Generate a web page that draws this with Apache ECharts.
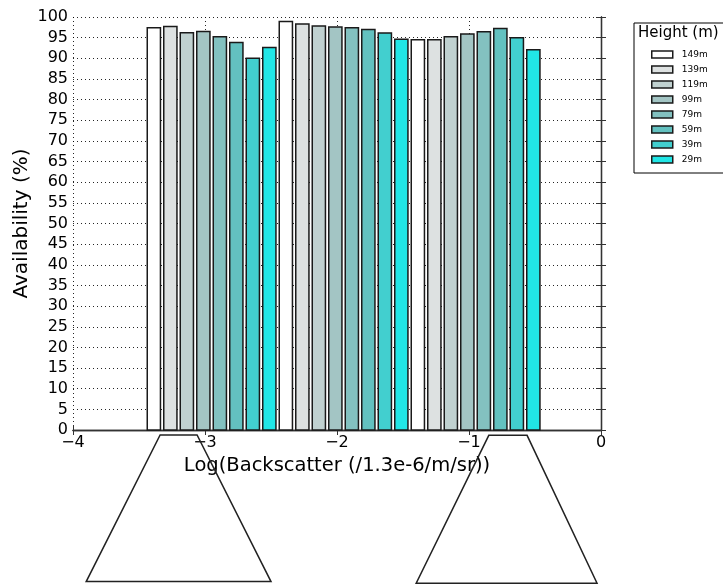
<!DOCTYPE html>
<html>
<head>
<meta charset="utf-8">
<script src="https://cdn.jsdelivr.net/npm/echarts@6/dist/echarts.min.js"></script>
<style>
  html, body { margin: 0; padding: 0; background: #fff; }
  #chart { width: 723px; height: 585px; }
</style>
</head>
<body>
<div id="chart"></div>
<script>
// Left edge of each backscatter bin (log scale)
const binLefts = [-3.5, -2.5, -1.5];

// Measurement heights (legend order)
const heights = ['149m', '139m', '119m', '99m', '79m', '59m', '39m', '29m'];

// Availability (%) per height, one value per backscatter bin
const avail149 = [97.4, 98.9, 94.5];
const avail139 = [97.7, 98.3, 94.5];
const avail119 = [96.2, 97.8, 95.2];
const avail99  = [96.5, 97.6, 95.9];
const avail79  = [95.2, 97.4, 96.4];
const avail59  = [93.8, 97.0, 97.2];
const avail39  = [90.0, 96.1, 95.0];
const avail29  = [92.6, 94.6, 92.1];
const availability = [avail149, avail139, avail119, avail99, avail79, avail59, avail39, avail29];

// Outline shapes below the axis (data coordinates)
const outlineLeft  = [[-3.34, -1.2], [-3.06, -1.2], [-2.50, -36.7], [-3.90, -36.7]];
const outlineRight = [[-0.85, -1.3], [-0.56, -1.3], [-0.03, -37.1], [-1.40, -37.1]];
const outlines = [outlineLeft, outlineRight];

// Axis tick values
const xTicks = [-4, -3, -2, -1, 0];
const yMax = 100, yStep = 5;

const colors = ['#ffffff', '#dde1e1', '#c0d1d0', '#a3c5c4', '#83c1c0', '#63c1c0', '#42cfcf', '#21e6e6'];
const EDGE = '#1a1a1a';
const FONT = 'DejaVu Sans';
const BAR_W = 0.1;      // bar width in data units
const SLOT = 0.125;     // spacing between heights inside a bin
const PAD = 0.0625;     // offset of first bar inside a bin

const minus = v => (v < 0 ? '\u2212' + (-v) : String(v));

const barSeries = heights.map((h, i) => ({
  type: 'custom',
  name: h,
  xAxisIndex: 0,
  yAxisIndex: 0,
  itemStyle: { color: colors[i], borderColor: EDGE, borderWidth: 1.5 },
  data: binLefts.map((b, k) => [b + PAD + i * SLOT, availability[i][k]]),
  renderItem: (params, api) => {
    const x0 = api.value(0), y = api.value(1);
    const p0 = api.coord([x0, y]);
    const p1 = api.coord([x0 + BAR_W, 0]);
    return {
      type: 'rect',
      shape: { x: p0[0], y: p0[1], width: p1[0] - p0[0], height: p1[1] - p0[1] },
      style: { fill: colors[i], stroke: EDGE, lineWidth: 1.5 }
    };
  }
}));

const outlineSeries = {
  type: 'custom',
  silent: true,
  clip: false,
  xAxisIndex: 0,
  yAxisIndex: 0,
  data: outlines.map((o, k) => [o[0][0], o[0][1], k]),
  renderItem: (params, api) => {
    const pts = outlines[api.value(2)].map(p => api.coord(p));
    return {
      type: 'polygon',
      shape: { points: pts },
      style: { fill: 'none', stroke: '#222', lineWidth: 1.5 }
    };
  },
  z: 5
};

const chart = echarts.init(document.getElementById('chart'), null, { renderer: 'canvas' });
const frameLine = { show: true, lineStyle: { color: '#333', width: 1.3 } };
const gridDots = { show: true, lineStyle: { color: '#000', width: 1, type: [1, 3], opacity: 0.85 } };

chart.setOption({
  animation: false,
  backgroundColor: '#fff',
  textStyle: { fontFamily: FONT },
  grid: { left: 73, right: 122, top: 17, bottom: 155, containLabel: false },
  title: {
    text: 'Height (m)',
    left: 638, top: 26, padding: 0,
    textStyle: { fontFamily: FONT, fontSize: 15, fontWeight: 'normal', color: '#000' }
  },
  legend: {
    orient: 'vertical',
    left: 634, top: 23,
    padding: [27, 45, 9, 17],
    itemWidth: 21, itemHeight: 7, itemGap: 6,
    icon: 'rect',
    borderColor: '#000', borderWidth: 1,
    data: heights,
    textStyle: { fontFamily: FONT, fontSize: 9, color: '#000', lineHeight: 8, padding: [0, 0, 0, 4] },
    itemStyle: { borderColor: EDGE, borderWidth: 1.5 },
    selectedMode: false
  },
  xAxis: [{
    type: 'value', min: xTicks[0], max: xTicks[xTicks.length - 1], interval: 1,
    position: 'bottom',
    name: 'Log(Backscatter (/1.3e-6/m/sr))',
    nameLocation: 'middle', nameGap: 25,
    nameTextStyle: { fontFamily: FONT, fontSize: 19.5, color: '#000' },
    axisLine: frameLine,
    axisTick: { show: true, inside: true, length: 5, lineStyle: { color: '#333' } },
    axisLabel: { fontFamily: FONT, fontSize: 16, color: '#000', margin: 5, formatter: minus,
                 showMinLabel: true, showMaxLabel: true },
    splitLine: gridDots
  }, {
    type: 'value', min: xTicks[0], max: xTicks[xTicks.length - 1], interval: 1,
    position: 'top',
    axisLine: frameLine,
    axisTick: { show: true, inside: true, length: 5, lineStyle: { color: '#333' } },
    axisLabel: { show: false },
    splitLine: { show: false }
  }],
  yAxis: [{
    type: 'value', min: 0, max: yMax, interval: yStep,
    position: 'left',
    name: 'Availability (%)',
    nameLocation: 'middle', nameGap: 41, nameRotate: 90,
    nameMoveOverlap: false,
    nameTextStyle: { fontFamily: FONT, fontSize: 20, color: '#000' },
    axisLine: frameLine,
    axisTick: { show: true, inside: true, length: 5, lineStyle: { color: '#333' } },
    axisLabel: { fontFamily: FONT, fontSize: 16, color: '#000', margin: 5 },
    splitLine: gridDots
  }, {
    type: 'value', min: 0, max: yMax, interval: yStep,
    position: 'right',
    axisLine: frameLine,
    axisTick: { show: true, inside: true, length: 5, lineStyle: { color: '#333' } },
    axisLabel: { show: false },
    splitLine: { show: false }
  }],
  series: barSeries.concat([outlineSeries])
});
</script>
</body>
</html>
